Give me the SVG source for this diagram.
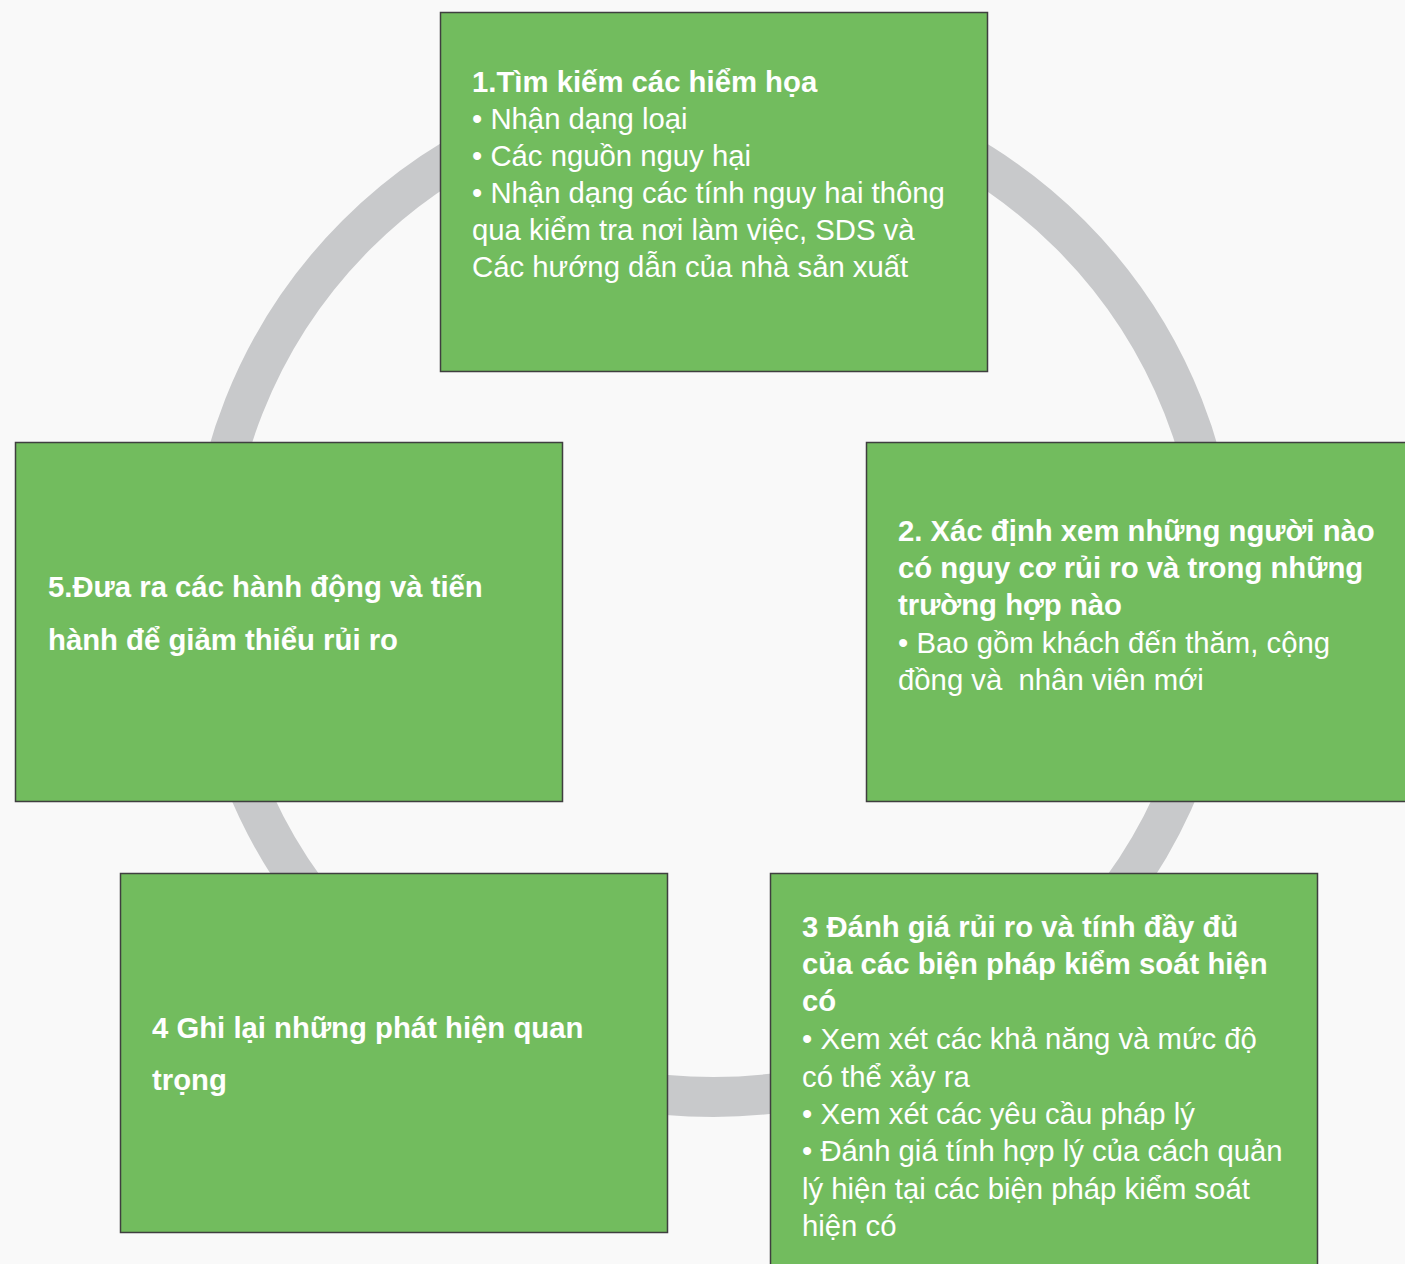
<svg xmlns="http://www.w3.org/2000/svg" width="1405" height="1264" viewBox="0 0 1405 1264">
  <style>
    .box { fill: #72bc5e; stroke: #3f3f3f; stroke-width: 1.5; }
    .t { font-family: "Liberation Sans", Arial, sans-serif; font-size: 29.3px; fill: #ffffff; }
    .b { font-weight: bold; }
  </style>
  <rect width="1405" height="1264" fill="#f9f9f9"/>
  <!-- cycle ring behind the steps -->
  <g id="connectors">
    <circle cx="713.5" cy="592" r="505" fill="none" stroke="#c8c9cb" stroke-width="40"/>
  </g>
  <g id="step1">
    <rect class="box" x="440.5" y="12.5" width="547" height="359"/>
    <text class="t" x="472">
      <tspan class="b" x="472" y="92">1.Tìm kiếm các hiểm họa</tspan>
      <tspan x="472" y="129">• Nhận dạng loại</tspan>
      <tspan x="472" y="166">• Các nguồn nguy hại</tspan>
      <tspan x="472" y="203">• Nhận dạng các tính nguy hai thông</tspan>
      <tspan x="472" y="240">qua kiểm tra nơi làm việc, SDS và</tspan>
      <tspan x="472" y="277">Các hướng dẫn của nhà sản xuất</tspan>
    </text>
  </g>
  <g id="step2">
    <rect class="box" x="866.5" y="442.5" width="547" height="359"/>
    <text class="t" x="898">
      <tspan class="b" x="898" y="541">2. Xác định xem những người nào</tspan>
      <tspan class="b" x="898" y="578">có nguy cơ rủi ro và trong những</tspan>
      <tspan class="b" x="898" y="615">trường hợp nào</tspan>
      <tspan x="898" y="653">• Bao gồm khách đến thăm, cộng</tspan>
      <tspan x="898" y="690" xml:space="preserve">đồng và  nhân viên mới</tspan>
    </text>
  </g>
  <g id="step3">
    <rect class="box" x="770.5" y="873.5" width="547" height="420"/>
    <text class="t" x="802">
      <tspan class="b" x="802" y="937">3 Đánh giá rủi ro và tính đầy đủ</tspan>
      <tspan class="b" x="802" y="974">của các biện pháp kiểm soát hiện</tspan>
      <tspan class="b" x="802" y="1011">có</tspan>
      <tspan x="802" y="1049">• Xem xét các khả năng và mức độ</tspan>
      <tspan x="802" y="1087">có thể xảy ra</tspan>
      <tspan x="802" y="1124">• Xem xét các yêu cầu pháp lý</tspan>
      <tspan x="802" y="1161">• Đánh giá tính hợp lý của cách quản</tspan>
      <tspan x="802" y="1199">lý hiện tại các biện pháp kiểm soát</tspan>
      <tspan x="802" y="1236">hiện có</tspan>
    </text>
  </g>
  <g id="step4">
    <rect class="box" x="120.5" y="873.5" width="547" height="359"/>
    <text class="t b" x="152">
      <tspan x="152" y="1038">4 Ghi lại những phát hiện quan</tspan>
      <tspan x="152" y="1090">trọng</tspan>
    </text>
  </g>
  <g id="step5">
    <rect class="box" x="15.5" y="442.5" width="547" height="359"/>
    <text class="t b" x="48">
      <tspan x="48" y="597">5.Đưa ra các hành động và tiến</tspan>
      <tspan x="48" y="650">hành để giảm thiểu rủi ro</tspan>
    </text>
  </g>
</svg>
